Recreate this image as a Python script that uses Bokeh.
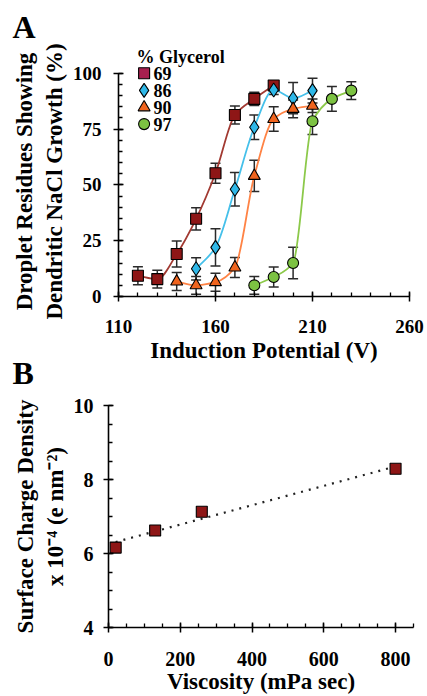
import numpy as np
from bokeh.plotting import figure
from bokeh.models import FixedTicker, Range1d, ColumnDataSource, Whisker, TeeHead, Title
from bokeh.embed import file_html
from bokeh.resources import INLINE
from bokeh.core.properties import value

FONT = "Liberation Serif"

# ---------------- Panel A data ----------------
glycerol_pct = ["69", "86", "90", "97"]

potential_69 = [120, 130, 140, 150, 160, 170, 180, 190]
growth_69 = [9.3, 7.8, 19.0, 34.8, 55.2, 81.3, 88.5, 94.5]
err_69 = [4.0, 4.0, 5.8, 5.0, 4.5, 4.0, 3.0, 2.0]

potential_86 = [150, 160, 170, 180, 190, 200, 210]
growth_86 = [12.4, 22.0, 48.0, 75.8, 92.5, 88.8, 92.2]
err_86 = [5.0, 8.3, 7.5, 5.5, 2.0, 7.0, 5.5]

potential_90 = [140, 150, 160, 170, 180, 190, 200, 210]
growth_90 = [6.7, 5.0, 6.4, 13.0, 54.0, 79.5, 84.0, 85.4]
err_90 = [4.0, 4.0, 4.0, 4.5, 7.0, 5.5, 4.0, 3.0]

potential_97 = [180, 190, 200, 210, 220, 230]
growth_97 = [5.0, 8.7, 15.0, 78.5, 88.5, 92.2]
err_97 = [4.0, 4.5, 7.0, 6.0, 5.5, 4.0]

a_xticks = [110, 160, 210, 260]
a_yticks = [0, 25, 50, 75, 100]

# ---------------- Panel B data ----------------
viscosity = [20, 130, 260, 800]
charge_density = [6.16, 6.62, 7.13, 8.29]
b_xticks = [0, 200, 400, 600, 800]
b_yticks = [4, 6, 8, 10]

series = [
    (potential_69, growth_69, err_69, "square", "#8e1616", "#a23a32", 11, "#a8204f"),
    (potential_86, growth_86, err_86, "diamond", "#2fb8e8", "#45c0ea", 14, "#2fb8e8"),
    (potential_90, growth_90, err_90, "triangle", "#f0641e", "#ff8345", 12, "#f0641e"),
    (potential_97, growth_97, err_97, "circle", "#7cc242", "#8cc94a", 11, "#7cc242"),
]


def pchip_slopes(x, y):
    x = np.asarray(x, float)
    y = np.asarray(y, float)
    h = np.diff(x)
    d = np.diff(y) / h
    n = len(x)
    m = np.zeros(n)
    m[0] = d[0]
    m[-1] = d[-1]
    for i in range(1, n - 1):
        if d[i - 1] * d[i] <= 0:
            m[i] = 0.0
        else:
            w1 = 2 * h[i] + h[i - 1]
            w2 = h[i] + 2 * h[i - 1]
            m[i] = (w1 + w2) / (w1 / d[i - 1] + w2 / d[i])
    return x, y, h, m


def style_axes(p, tick_size):
    for ax in (p.xaxis[0], p.yaxis[0]):
        ax.axis_line_color = "black"
        ax.axis_line_width = 1.6
        ax.major_tick_line_color = "black"
        ax.major_tick_line_width = 1.5
        ax.minor_tick_line_color = "black"
        ax.minor_tick_line_width = 1.3
        ax.major_tick_in = 5
        ax.major_tick_out = 5
        ax.minor_tick_in = 4
        ax.minor_tick_out = 0
        ax.major_label_text_font = FONT
        ax.major_label_text_font_style = "bold"
        ax.major_label_text_font_size = tick_size
        ax.major_label_text_color = "black"
        ax.axis_label_text_font = FONT
        ax.axis_label_text_font_style = "bold"
        ax.axis_label_text_font_size = "23px"
        ax.axis_label_text_color = "black"
    p.xgrid.visible = False
    p.ygrid.visible = False
    p.outline_line_color = None


def letter_title(letter, offset, standoff, valign):
    return Title(text=letter, align="left", vertical_align=valign, offset=offset,
                 standoff=standoff, text_font=FONT, text_font_style="bold",
                 text_font_size="32px", text_color="black")


# ---------------- Panel A ----------------
pA = figure(width=427, height=393, output_backend="svg", toolbar_location=None,
            x_range=Range1d(110, 260), y_range=Range1d(0, 103),
            min_border_left=118, min_border_right=18, min_border_top=66, min_border_bottom=97)
pA.xaxis.ticker = FixedTicker(ticks=a_xticks, minor_ticks=list(range(110, 261, 10)))
pA.yaxis.ticker = FixedTicker(ticks=a_yticks, minor_ticks=list(range(0, 101, 5)))
pA.xaxis.bounds = (110, 260)
pA.yaxis.bounds = (0, 100)
pA.xaxis.axis_label = "Induction Potential (V)"
pA.yaxis.axis_label = "Droplet Residues Showing\nDendritic NaCl Growth (%)"
style_axes(pA, "19px")
pA.xaxis.major_label_standoff = 18
pA.xaxis.axis_label_standoff = 2
pA.yaxis.major_label_standoff = 12
pA.yaxis.axis_label_standoff = 3
pA.title = letter_title("A", -106, 0, "bottom")
pA.add_layout(Title(text="% Glycerol", align="left", offset=18, standoff=0,
                    text_font=FONT, text_font_style="bold", text_font_size="18px",
                    text_color="black"), "above")
# panel letter of the lower chart, drawn under the x-axis label of the upper one
pA.add_layout(letter_title("B", -106, -22, "top"), "below")

for xs, ys, es, marker, fill, lcol, size, _ in series:
    src = ColumnDataSource(dict(x=xs, upper=[a + b for a, b in zip(ys, es)],
                                lower=[a - b for a, b in zip(ys, es)]))
    pA.add_layout(Whisker(source=src, base="x", upper="upper", lower="lower",
                          line_color="#2a2a2a", line_width=1.5,
                          upper_head=TeeHead(size=10, line_color="#2a2a2a", line_width=1.5),
                          lower_head=TeeHead(size=10, line_color="#2a2a2a", line_width=1.5)))
    x, y, h, m = pchip_slopes(xs, ys)
    pA.bezier(x0=x[:-1], y0=y[:-1], x1=x[1:], y1=y[1:],
              cx0=x[:-1] + h / 3, cy0=y[:-1] + m[:-1] * h / 3,
              cx1=x[1:] - h / 3, cy1=y[1:] - m[1:] * h / 3,
              line_color=lcol, line_width=1.8)

for xs, ys, es, marker, fill, lcol, size, _ in series:
    pA.scatter(xs, ys, marker=marker, size=size, fill_color=fill,
               line_color="black", line_width=1.1)

# legend entries (manual, inside the frame)
leg_marker_x = 123.2
leg_text_x = 128.0
leg_rows_y = [100.0, 92.3, 84.7, 77.2]
for (xs, ys, es, marker, fill, lcol, size, legfill), lab, ly in zip(series, glycerol_pct, leg_rows_y):
    pA.scatter([leg_marker_x], [ly], marker=marker, size=size, fill_color=legfill,
               line_color="black", line_width=1.1)
    pA.text(x=[leg_text_x], y=[ly], text=[lab], text_font=value(FONT),
            text_font_style="bold", text_font_size="18px",
            text_baseline="middle", text_align="left", text_color="black")

# ---------------- Panel B ----------------
pB = figure(width=427, height=303, output_backend="svg", toolbar_location=None,
            x_range=Range1d(0, 850), y_range=Range1d(4, 10),
            min_border_left=108, min_border_right=14, min_border_top=12, min_border_bottom=68)
pB.xaxis.ticker = FixedTicker(ticks=b_xticks, minor_ticks=list(range(0, 851, 50)))
pB.yaxis.ticker = FixedTicker(ticks=b_yticks, minor_ticks=[4 + 0.5 * i for i in range(13)])
pB.xaxis.axis_label = "Viscosity (mPa sec)"
pB.yaxis.axis_label = "Surface Charge Density\nx 10\u207b\u2074 (e nm\u207b\u00b2)"
style_axes(pB, "20px")
pB.xaxis.major_label_standoff = 19
pB.xaxis.axis_label_standoff = 0
pB.yaxis.major_label_standoff = 10
pB.yaxis.axis_label_standoff = 3

slope, intercept = np.polyfit(viscosity, charge_density, 1)
fit_x = [min(viscosity), max(viscosity)]
fit_y = [slope * v + intercept for v in fit_x]
pB.line(fit_x, fit_y, line_color="#222222", line_width=2.2, line_dash="2 6")
pB.scatter(viscosity, charge_density, marker="square", size=11, fill_color="#8e1616",
           line_color="black", line_width=1.1)

open("out.html", "w").write(file_html([pA, pB], INLINE))
